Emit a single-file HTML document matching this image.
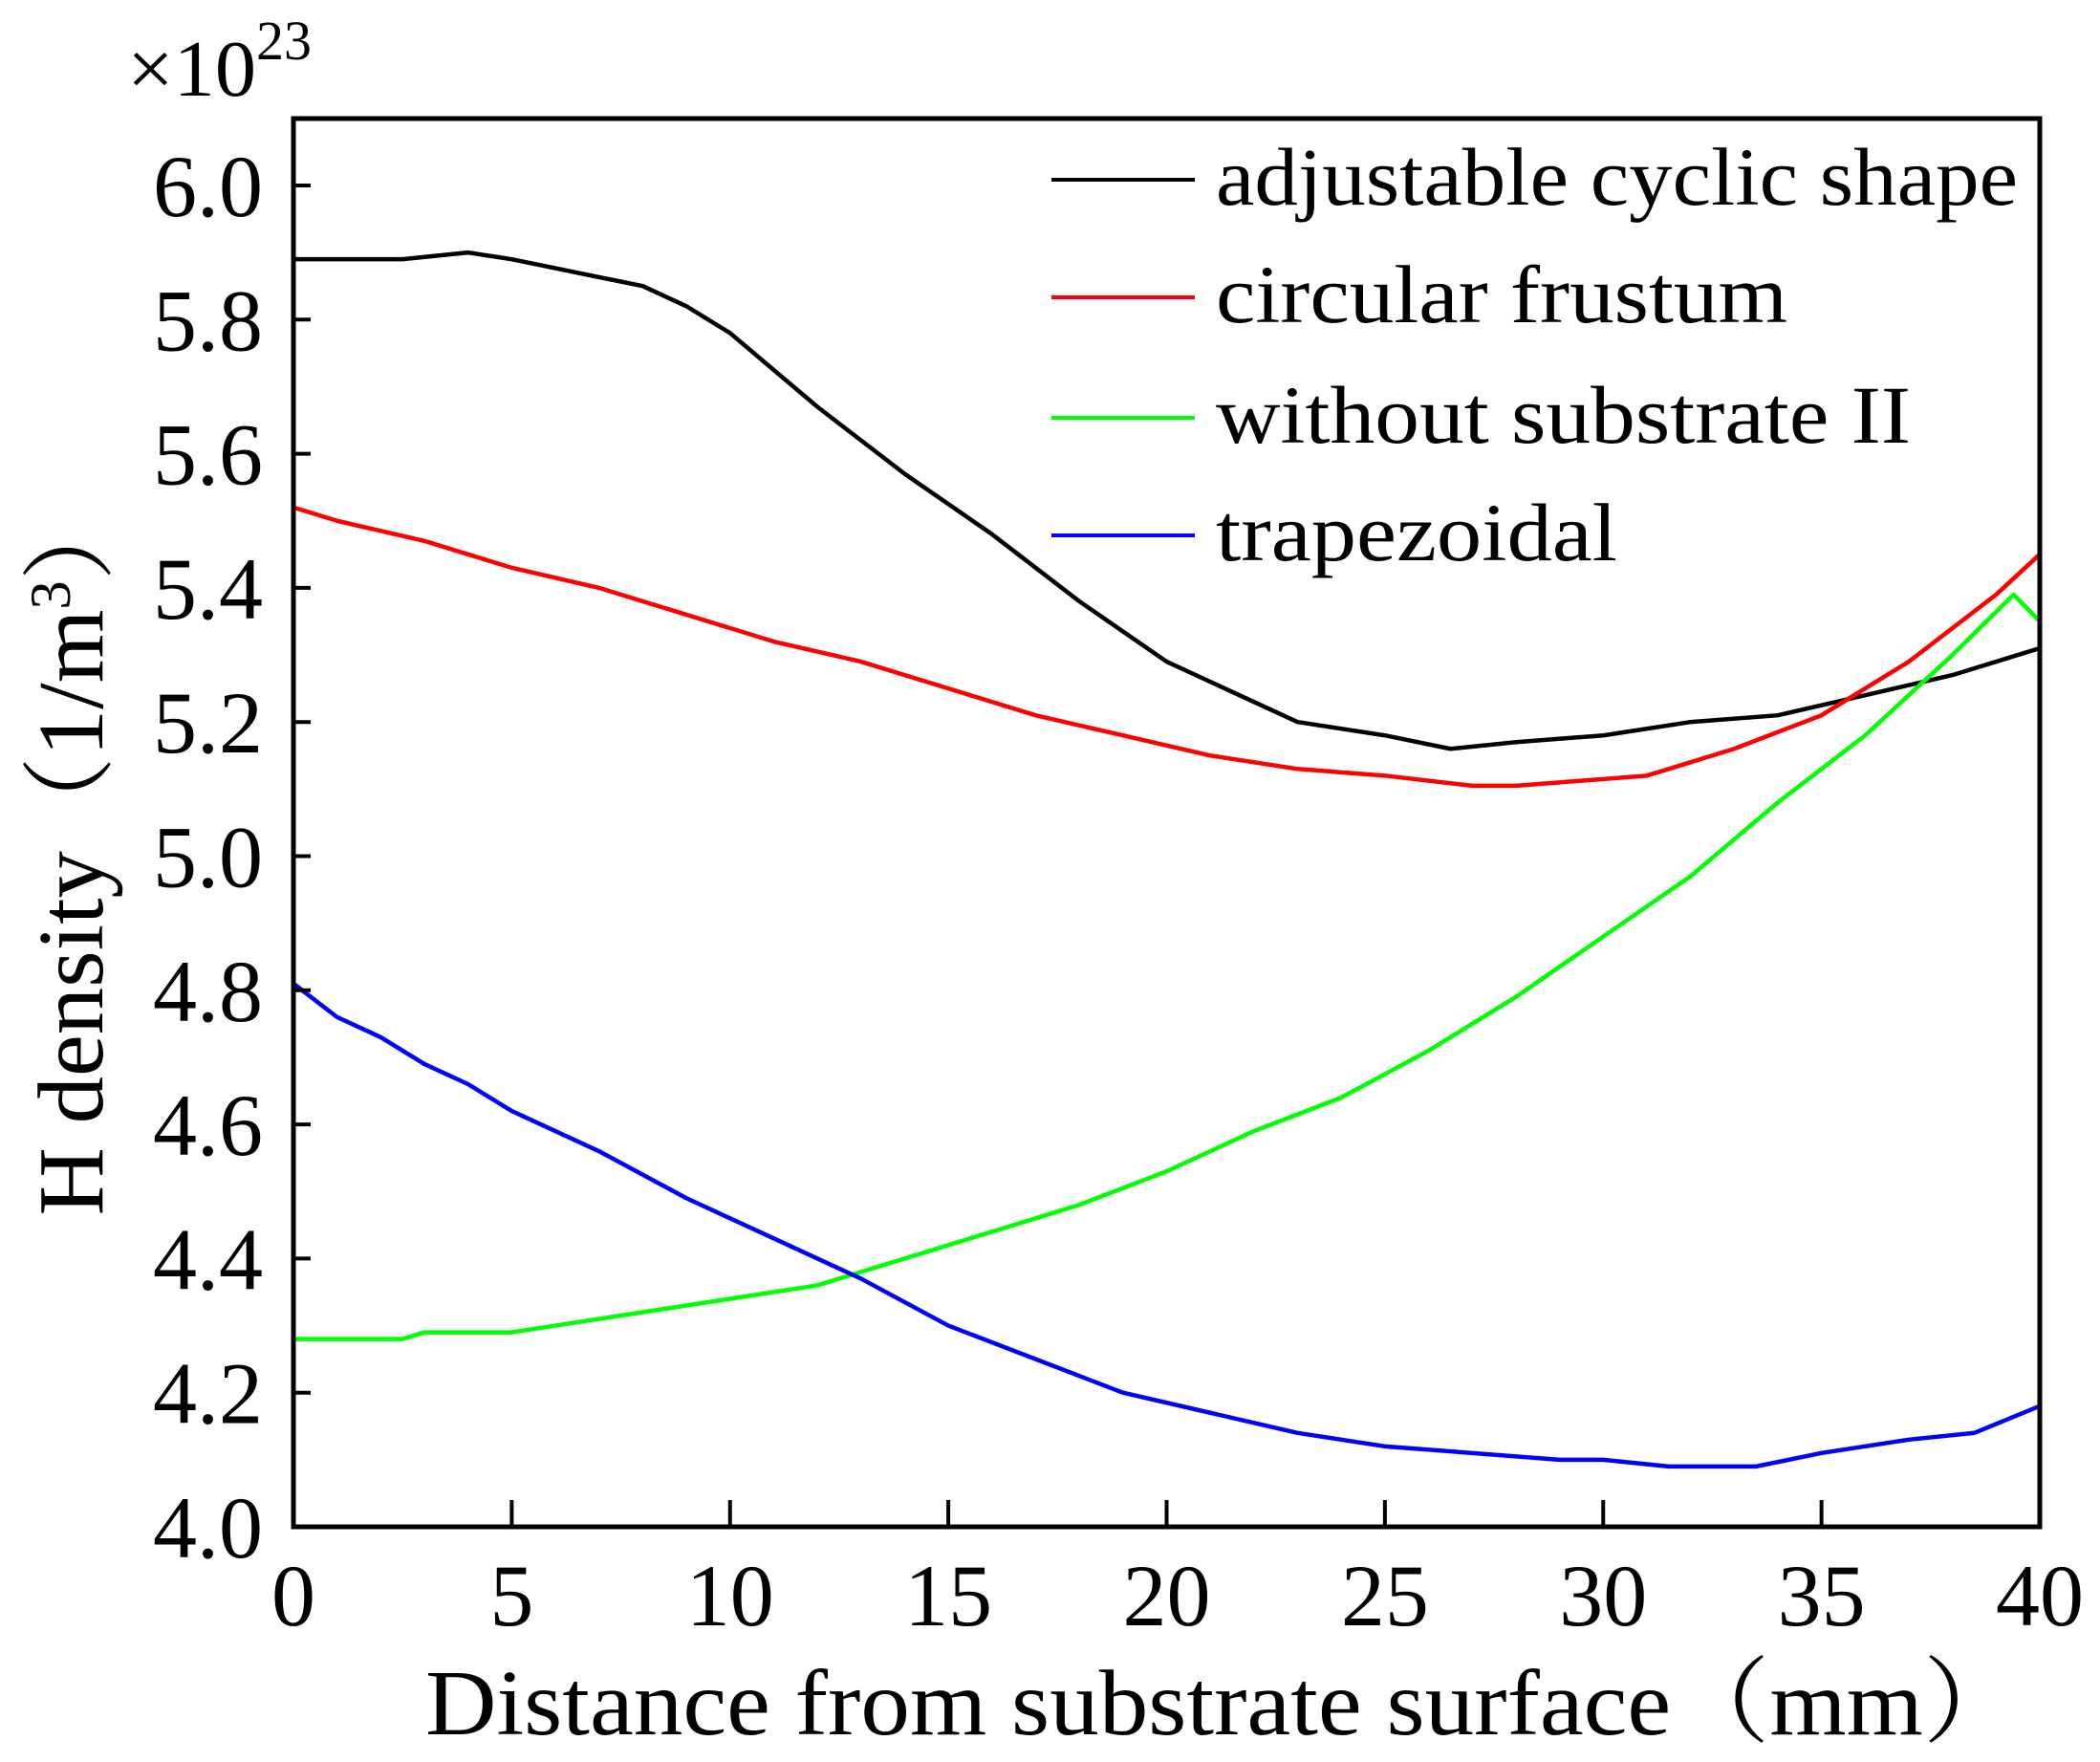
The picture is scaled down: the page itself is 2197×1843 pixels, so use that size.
<!DOCTYPE html>
<html><head><meta charset="utf-8"><style>html,body{margin:0;padding:0;background:#fff}svg{display:block}</style></head>
<body>
<svg width="2197" height="1843" viewBox="0 0 2197 1843" xmlns="http://www.w3.org/2000/svg" font-family="'Liberation Serif', serif">
<rect width="2197" height="1843" fill="#fff"/>
<g id="plot"></g>
<rect x="307" y="124" width="1827" height="1473" fill="none" stroke="#000" stroke-width="5"/>
<g id="ticks" stroke="#000" stroke-width="4"></g>
<g font-size="92" fill="#000" id="yl" text-anchor="end"></g>
<g font-size="92" fill="#000" id="xl" text-anchor="middle"></g>
<text x="133" y="100" font-size="84" textLength="135" lengthAdjust="spacingAndGlyphs">×10</text>
<text x="268" y="62" font-size="58">23</text>
<text font-size="98" transform="translate(107,890) rotate(-90)" text-anchor="middle" textLength="763" lengthAdjust="spacingAndGlyphs" font-family="'Liberation Serif','Noto Serif CJK SC',serif">H density（1/m<tspan dy="-34" font-size="60">3</tspan><tspan dy="34">）</tspan></text>
<text x="445" y="1814" font-size="98" textLength="1670" lengthAdjust="spacingAndGlyphs" font-family="'Liberation Serif','Noto Serif CJK SC',serif">Distance from substrate surface（mm）</text>
<g stroke-width="4">
<line x1="1100" y1="188" x2="1250" y2="188" stroke="#000"/>
<line x1="1100" y1="311" x2="1250" y2="311" stroke="#f00"/>
<line x1="1100" y1="437" x2="1250" y2="437" stroke="#0f0"/>
<line x1="1100" y1="560" x2="1250" y2="560" stroke="#00f"/>
</g>
<g font-size="86" fill="#000" lengthAdjust="spacingAndGlyphs">
<text x="1272" y="214" textLength="839" lengthAdjust="spacingAndGlyphs">adjustable cyclic shape</text>
<text x="1272" y="337" textLength="598" lengthAdjust="spacingAndGlyphs">circular frustum</text>
<text x="1272" y="463" textLength="727" lengthAdjust="spacingAndGlyphs">without substrate II</text>
<text x="1272" y="586" textLength="420" lengthAdjust="spacingAndGlyphs">trapezoidal</text>
</g>
<script>
const X=x=>307+x*1827/40, Y=v=>1597-(v-4)/2*1403;
const S={
"#000":[[0,5.89],[2.5,5.89],[4,5.9],[5,5.89],[8,5.85],[9,5.82],[10,5.78],[12,5.67],[14,5.57],[16,5.48],[18,5.38],[20,5.29],[22,5.23],[23,5.2],[25,5.18],[26.5,5.16],[28,5.17],[30,5.18],[32,5.2],[34,5.21],[36,5.24],[38,5.27],[39,5.29],[40,5.31]],
"#f00":[[0,5.52],[1,5.5],[3,5.47],[5,5.43],[7,5.4],[9,5.36],[11,5.32],[13,5.29],[15,5.25],[17,5.21],[19,5.18],[21,5.15],[23,5.13],[25,5.12],[27,5.105],[28,5.105],[29,5.11],[31,5.12],[33,5.16],[35,5.21],[37,5.29],[39,5.39],[40,5.45]],
"#0f0":[[0,4.28],[2.5,4.28],[3,4.29],[5,4.29],[8,4.32],[10,4.34],[12,4.36],[14,4.4],[16,4.44],[18,4.48],[20,4.53],[22,4.59],[24,4.64],[26,4.71],[28,4.79],[30,4.88],[32,4.97],[34,5.08],[36,5.18],[38,5.3],[39.4,5.39],[39.7,5.37],[40,5.35]],
"#00f":[[0,4.81],[1,4.76],[2,4.73],[3,4.69],[4,4.66],[5,4.62],[7,4.56],[9,4.49],[11,4.43],[13,4.37],[15,4.3],[17,4.25],[19,4.2],[21,4.17],[23,4.14],[25,4.12],[27,4.11],[29,4.1],[30,4.1],[31.5,4.09],[33.5,4.09],[35,4.11],[37,4.13],[38.5,4.14],[40,4.18]]};
const NS="http://www.w3.org/2000/svg";
let p=document.getElementById('plot');
for(const c in S){let e=document.createElementNS(NS,'polyline');e.setAttribute('points',S[c].map(q=>X(q[0])+','+Y(q[1])).join(' '));e.setAttribute('fill','none');e.setAttribute('stroke',c);e.setAttribute('stroke-width','4.5');e.setAttribute('stroke-linejoin','round');p.appendChild(e);}
let t=document.getElementById('ticks'),yl=document.getElementById('yl'),xl=document.getElementById('xl');
for(let i=0;i<=10;i++){let v=4+i*0.2,y=Y(v);let l=document.createElementNS(NS,'line');l.setAttribute('x1',307);l.setAttribute('x2',325);l.setAttribute('y1',y);l.setAttribute('y2',y);t.appendChild(l);
let s=document.createElementNS(NS,'text');s.setAttribute('x',275);s.setAttribute('y',y+32);s.textContent=v.toFixed(1);yl.appendChild(s);}
for(let i=0;i<=8;i++){let x=X(i*5);let l=document.createElementNS(NS,'line');l.setAttribute('x1',x);l.setAttribute('x2',x);l.setAttribute('y1',1597);l.setAttribute('y2',1569);t.appendChild(l);
let s=document.createElementNS(NS,'text');s.setAttribute('x',x);s.setAttribute('y',1700);s.textContent=i*5;xl.appendChild(s);}
</script>
</svg>
</body></html>
